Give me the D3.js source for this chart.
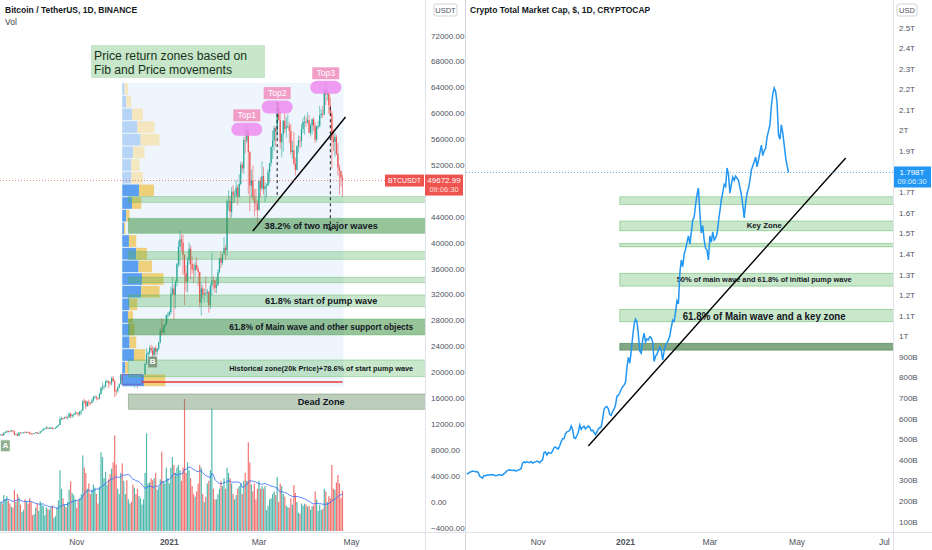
<!DOCTYPE html>
<html>
<head>
<meta charset="utf-8">
<script src="https://cdn.jsdelivr.net/npm/d3@7"></script>
<style>
  body { margin: 0; background: #fff; }
  text { font-family: "Liberation Sans", Arial, sans-serif; }
</style>
</head>
<body>
<svg id="chart" width="932" height="550"></svg>
<script>
// ---- data: BTCUSDT daily, 2020-09-12 .. 2021-04-25 ----
const startDate = new Date(Date.UTC(2020, 8, 12));
const btcFirstOpen = 10390;
const btcClose = [
  10440,10330,10680,10790,10950,10940,10930,11080,10920,10420,10530,10240,10740,10690,10730,10775,10710,10845,10780,
  10620,10570,10550,10670,10790,10600,10670,10920,11050,11300,11380,11540,11430,11430,11500,11320,11370,11510,11750,11910,12820,12980,12930,13120,13030,13070,13650,13270,13460,13560,13800,
  13760,13550,14030,14150,15590,15580,14830,15480,15330,15300,15700,16290,16320,16070,15960,16730,17660,17800,17820,18660,18700,18420,18370,19160,18720,17150,17140,17720,18180,19700,
  18770,19220,19420,18650,19150,19360,19170,18320,18550,18250,18040,18800,19170,19270,19430,21350,22800,23110,23820,23450,22710,23820,23240,23720,24660,26440,26250,27030,27370,28860,28920,
  29330,32180,33000,31990,33950,36770,39430,40580,40090,38150,35400,34050,37370,39140,36770,36000,35820,36630,36020,35540,30800,33010,32080,32260,32250,32510,30400,33400,34270,34260,33110,
  33520,35510,37660,36950,38290,39260,38870,46450,46510,44840,47970,47380,47400,48580,47180,49150,52120,51550,55890,55850,57410,54090,48890,49680,47070,46280,46100,45140,
  49590,48440,50350,48370,48760,48880,50970,52380,54880,55850,57770,57220,61190,59000,55600,56900,58910,57650,58030,58100,57350,54080,54340,52300,51300,55040,55860,55780,57630,58730,58740,
  58720,58990,57060,58200,59130,58060,56000,58090,58100,59770,59990,59860,63580,62960,63160,61330,60000,56150,55630,56430,53790,51700,51150,50110,49673
];
const btcHigh = [
  10480,10550,10800,10940,11100,11040,11040,11180,11080,10990,10580,10560,10780,10770,10790,10800,10950,10870,10850,
  10920,10670,10600,10690,10800,10800,10700,10960,11110,11490,11440,11720,11560,11550,11630,11540,11400,11530,11820,12030,13220,13190,13030,13170,13350,13240,13790,13860,13630,13680,14100,
  13900,13830,14070,14250,15770,15970,15760,15650,15840,15470,15940,16340,16480,16330,16140,16880,17860,18480,18140,18820,18970,18740,18760,19420,19480,18920,17460,17860,18350,19860,
  19890,19310,19560,19510,19180,19420,19390,19290,18640,18560,18290,18950,19410,19350,19570,21560,23800,23280,24170,24300,24100,23840,24150,23790,24790,26870,28420,27500,27410,28990,29300,
  29600,33300,34780,33600,34360,36940,40370,41950,41380,41350,38260,36630,37850,40100,39700,37950,36850,37300,37850,36410,35600,33830,33450,32940,34880,32920,32560,33780,38530,34930,34290,
  34720,35980,37660,38710,38310,40950,39700,46790,48200,47310,48680,48980,48150,49710,49000,50650,52620,52530,56370,57500,58350,57530,54180,51370,52040,48370,48390,46640,
  49790,50200,52640,51770,49450,49200,51450,52400,54900,57390,58150,58060,61790,61680,60600,56940,58980,60080,59470,59880,58630,58400,55830,57200,53230,55080,56640,56560,58400,59370,59800,
  59490,60200,59790,58490,59270,59480,58660,58150,58880,61220,60690,61200,63780,64850,63800,63520,62500,60410,57530,57080,56760,55500,52130,51170,50550
];
const btcLow = [
  10280,10200,10250,10630,10670,10750,10820,10890,10770,10290,10360,10140,10200,10540,10650,10630,10670,10640,10670,
  10440,10380,10500,10520,10600,10530,10570,10530,10830,11050,11270,11200,11260,11280,11270,11220,11300,11340,11410,11680,11890,12680,12720,12900,12890,12780,13060,12920,12990,13130,13420,
  13620,13200,13290,13530,14090,15180,14350,14700,14830,14980,15270,15430,15950,15700,15800,15870,16560,17210,17340,17750,18400,17600,18000,18020,18570,16190,16440,16870,17520,18180,
  18320,18330,18920,18570,18500,18860,18900,18200,17650,17910,17570,18020,18710,19000,19050,19280,21230,22350,22750,23060,22350,22350,22700,22700,23430,24500,25700,26100,25880,27320,27850,
  28620,28950,31960,28130,29900,33290,36300,36500,38720,35110,30420,32530,32380,36700,34410,35360,33850,34860,35800,33400,30070,28850,31390,30900,31910,30840,29240,29840,31920,32850,32300,
  32300,33420,35360,36160,36570,38220,37350,38050,45020,43730,43980,46130,46200,47060,45850,47010,48950,50900,50710,53860,55480,47620,44890,47000,46670,44110,45000,43000,
  45000,47050,48100,47500,46300,47070,48880,49270,51850,53000,54270,55000,56080,59000,54600,53270,54120,57020,56270,57820,55450,53650,53000,52000,50430,51250,53960,54690,54900,57000,56770,
  57940,58400,56960,56470,56780,57330,55470,55700,57660,57880,59260,59370,59790,61300,62020,60000,59580,51540,54220,53330,53600,50400,47500,48750,47140
];
// volume, thousands of BTC
const btcVolume = [
  55,52,68,60,66,58,52,46,44,78,55,70,64,50,36,40,60,56,52,
  62,55,30,32,44,52,38,56,50,48,30,45,42,40,46,48,25,28,44,58,115,80,62,50,45,55,78,94,72,68,60,
  44,58,62,70,143,120,110,80,90,70,78,88,82,70,52,84,149,140,100,112,88,98,108,118,130,181,126,80,70,110,
  128,95,70,96,60,52,55,88,82,70,80,66,62,50,60,110,185,90,92,100,96,100,110,78,84,98,150,95,90,120,100,
  90,120,140,125,110,120,125,115,95,120,250,110,130,115,100,85,70,65,75,90,125,120,70,55,65,90,95,115,232,80,60,
  60,70,80,95,85,100,80,120,110,100,90,70,60,68,80,85,90,70,95,110,95,168,130,88,75,90,60,80,
  95,80,85,80,85,40,48,60,62,70,75,68,102,55,90,85,70,65,48,45,44,62,50,87,72,55,35,33,52,48,52,
  50,46,48,40,47,48,75,60,38,50,40,42,80,75,55,66,62,125,80,78,92,106,90,62,76
];
// crypto total market cap, billions USD, same days
const totalCap = [
  333,336,342,344,348,346,344,345,340,322,318,313,326,325,327,329,327,331,330,
  328,325,326,329,331,326,328,335,340,348,352,354,351,350,352,348,349,352,355,360,386,392,388,392,390,388,394,386,390,392,396,
  393,388,396,402,437,440,425,438,435,434,446,461,465,458,455,470,490,505,505,528,538,540,545,566,548,508,505,520,536,571,
  550,560,566,552,560,566,560,543,546,536,524,538,552,558,562,600,648,658,660,650,622,618,638,648,668,712,715,728,745,757,765,
  780,850,900,872,930,1000,1060,1085,1073,1010,930,920,985,1018,975,990,985,1000,995,975,880,905,915,935,950,935,887,930,960,970,984,
  1005,1045,1081,1075,1120,1175,1160,1310,1373,1340,1400,1425,1460,1490,1450,1505,1567,1580,1640,1690,1722,1600,1504,1540,1470,1430,1420,1373,
  1490,1460,1510,1470,1480,1500,1560,1610,1664,1700,1740,1730,1820,1790,1698,1740,1776,1760,1780,1770,1760,1727,1690,1640,1577,1650,1698,1720,1760,1810,1830,
  1850,1873,1825,1860,1895,1931,1880,1905,1915,1970,2000,2030,2120,2180,2208,2190,2135,1980,1960,2030,1990,1930,1870,1830,1798
];

// volume profile (visible range), rows from low price to high price
const profileLow = 17830, profileHigh = 64787;
const profileUp   = [2170,300,1170,730,730,570,730,1900,1970,1630,1400,670,170,400,970,1670,900,900,1070,1830,1500,970,400,230];
const profileDown = [2130,270,1130,670,500,500,770,1830,2160,1340,1070,730,130,330,930,1500,1170,830,1160,1900,1730,1100,500,340];
const profileValueRows = 16;

// price zones on BTC chart
const btcZoneLow  = [46312, 41524, 37508, 33894, 30187, 25815, 19374, 14338];
const btcZoneHigh = [47178, 43841, 38682, 34728, 31994, 28287, 21953, 16702];
const btcZoneText = ["", "38.2% of two major waves", "", "", "61.8% start of pump wave",
  "61.8% of Main wave and other support objects", "Historical zone(20k Price)+78.6% of start pump wave", "Dead Zone"];
const btcZoneStart = new Date(Date.UTC(2020, 11, 5)), btcZoneEnd = new Date(Date.UTC(2021, 7, 16));

// zones on total market cap chart (billions)
const capZoneLow  = [1643, 1515, 1437, 1246, 1073, 935];
const capZoneHigh = [1680, 1562, 1454, 1308, 1133, 968];
const capZoneText = ["", "Key Zone", "", "50% of main wave and 61.8% of initial pump wave", "61.8% of Main wave and a key zone", ""];
const capZoneStart = new Date(Date.UTC(2020, 11, 28)), capZoneEnd = new Date(Date.UTC(2021, 6, 18));

const topNames = ["Top1", "Top2", "Top3"];
const topDates = [new Date(Date.UTC(2021, 1, 21)), new Date(Date.UTC(2021, 2, 13)), new Date(Date.UTC(2021, 3, 14))];

// tick labels (values hidden behind the axis boxes are left out)
const priceTicks = [72000,68000,64000,60000,56000,52000,44000,40000,36000,32000,28000,24000,20000,16000,12000,8000,4000,0,-4000];
const capTicks = [2500,2400,2300,2200,2100,2000,1900,1700,1600,1500,1400,1300,1200,1100,1000,900,800,700,600,500,400,300,200,100];
const leftTimeTicks = [["Nov", new Date(Date.UTC(2020,10,1))], ["2021", new Date(Date.UTC(2021,0,1))], ["Mar", new Date(Date.UTC(2021,2,1))], ["May", new Date(Date.UTC(2021,4,1))]];
const rightTimeTicks = leftTimeTicks.concat([["Jul", new Date(Date.UTC(2021,6,1))]]);

// ---- scales ----
const domainT = [startDate, new Date(Date.UTC(2021, 4, 1))];
const x = d3.scaleUtc().domain(domainT).range([0.75, 351.6]);
const y = d3.scaleLinear().domain([-4000, 72000]).range([528, 36]);
const yVol = d3.scaleLinear().domain([0, d3.max(btcVolume)]).range([531, 399]);
const x2 = d3.scaleUtc().domain(domainT).range([466.8, 797.1]);
const y2 = d3.scaleLinear().domain([100, 2500]).range([522, 28]);

const days = btcClose.map((_, i) => d3.utcDay.offset(startDate, i));
const candles = days.map((d, i) => ({
  date: d, o: i ? btcClose[i - 1] : btcFirstOpen, h: btcHigh[i], l: btcLow[i], c: btcClose[i], v: btcVolume[i]
}));
const UP = '#26a69a', DOWN = '#ef5350';

const svg = d3.select('#chart');
const defs = svg.append('defs');
defs.append('clipPath').attr('id', 'clipL').append('rect').attr('x', 0).attr('y', 0).attr('width', 425).attr('height', 532);
defs.append('clipPath').attr('id', 'clipR').append('rect').attr('x', 466).attr('y', 0).attr('width', 427).attr('height', 532);

// ================= LEFT PANE =================
const L = svg.append('g').attr('clip-path', 'url(#clipL)');

// volume profile background
const vpStart = new Date(Date.UTC(2020, 11, 1)), vpEnd = days[days.length - 1];
L.append('rect')
  .attr('x', x(vpStart)).attr('y', y(profileHigh))
  .attr('width', x(vpEnd) - x(vpStart) + 1).attr('height', y(profileLow) - y(profileHigh))
  .attr('fill', '#eef5fc');

// volume bars
L.append('g').selectAll('rect').data(candles).join('rect')
  .attr('x', d => x(d.date) - 0.6).attr('width', 1.2)
  .attr('y', d => yVol(d.v)).attr('height', d => yVol(0) - yVol(d.v))
  .attr('fill', d => d.c >= d.o ? UP : DOWN).attr('opacity', 0.8);

// volume SMA 20
const volMa = candles.map((d, i) => ({ date: d.date, v: d3.mean(btcVolume.slice(Math.max(0, i - 19), i + 1)) }));
L.append('path').datum(volMa)
  .attr('d', d3.line().x(d => x(d.date)).y(d => yVol(d.v)))
  .attr('fill', 'none').attr('stroke', '#2962ff').attr('stroke-width', 0.9).attr('opacity', 0.85);

// candles
const cg = L.append('g');
cg.selectAll('line').data(candles).join('line')
  .attr('x1', d => x(d.date)).attr('x2', d => x(d.date))
  .attr('y1', d => y(d.h)).attr('y2', d => y(d.l))
  .attr('stroke', d => d.c >= d.o ? UP : DOWN).attr('stroke-width', 0.6);
cg.selectAll('rect').data(candles).join('rect')
  .attr('x', d => x(d.date) - 0.6).attr('width', 1.2)
  .attr('y', d => y(Math.max(d.o, d.c)))
  .attr('height', d => Math.max(0.8, Math.abs(y(d.o) - y(d.c))))
  .attr('fill', d => d.c >= d.o ? UP : DOWN);

// volume profile rows
const rowStep = (profileHigh - profileLow) / profileUp.length;
const profW = d3.scaleLinear().domain([0, d3.max(profileUp.map((u, i) => u + profileDown[i]))]).range([0, 43]);
const pg = L.append('g');
profileUp.forEach((u, i) => {
  const lo = profileLow + i * rowStep, hi = lo + rowStep;
  const inVA = i < profileValueRows;
  const x0 = x(vpStart);
  const yt = y(hi) + 0.5, h = y(lo) - y(hi) - 1;
  pg.append('rect').attr('x', x0).attr('y', yt).attr('width', profW(u)).attr('height', h)
    .attr('fill', inVA ? '#5c9ff0' : '#b6d4f5');
  pg.append('rect').attr('x', x0 + profW(u)).attr('y', yt).attr('width', profW(profileDown[i])).attr('height', h)
    .attr('fill', inVA ? '#efd07a' : '#f4e7bf');
});

// small box round the December base
L.append('rect')
  .attr('x', x(vpStart)).attr('y', y(19700))
  .attr('width', x(new Date(Date.UTC(2020, 11, 14))) - x(vpStart)).attr('height', y(18200) - y(19700))
  .attr('fill', 'none').attr('stroke', '#7e57c2').attr('stroke-width', 1).attr('opacity', 0.8);

// red level line
L.append('line')
  .attr('x1', x(new Date(Date.UTC(2020, 11, 14)))).attr('x2', x(vpEnd))
  .attr('y1', y(18555)).attr('y2', y(18555))
  .attr('stroke', '#e53935').attr('stroke-width', 1.6);

// zones
const zg = L.append('g');
btcZoneLow.forEach((lo, i) => {
  const hi = btcZoneHigh[i];
  const dark = i === 1 || i === 5;
  const dead = i === 7;
  zg.append('rect')
    .attr('x', x(btcZoneStart)).attr('y', y(hi))
    .attr('width', x(btcZoneEnd) - x(btcZoneStart)).attr('height', y(lo) - y(hi))
    .attr('fill', dead ? 'rgba(95,135,95,0.42)' : dark ? 'rgba(56,142,60,0.52)' : 'rgba(76,175,80,0.3)')
    .attr('stroke', dead ? 'rgba(95,135,95,0.5)' : 'rgba(76,175,80,0.45)').attr('stroke-width', 0.8);
  if (btcZoneText[i]) {
    const small = i === 6;
    const t = zg.append('text')
      .attr('x', (x(btcZoneStart) + x(btcZoneEnd)) / 2).attr('y', (y(lo) + y(hi)) / 2)
      .attr('text-anchor', 'middle').attr('dominant-baseline', 'central')
      .attr('font-size', small ? 8 : 9.2).attr('font-weight', 'bold').attr('fill', '#131722')
      .text(btcZoneText[i]);
    if (i === 5 || i === 6) t.attr('textLength', 184).attr('lengthAdjust', 'spacingAndGlyphs');
  }
});

// dashed range lines from tops
const dashA = new Date(Date.UTC(2021, 2, 13)), dashB = new Date(Date.UTC(2021, 3, 17));
L.append('line').attr('x1', x(dashA)).attr('x2', x(dashA)).attr('y1', y(61790)).attr('y2', y(47300))
  .attr('stroke', '#131722').attr('stroke-width', 1).attr('stroke-dasharray', '3,3');
L.append('line').attr('x1', x(dashB)).attr('x2', x(dashB)).attr('y1', y(61000)).attr('y2', y(41900))
  .attr('stroke', '#131722').attr('stroke-width', 1).attr('stroke-dasharray', '3,3');
L.append('path')
  .attr('d', `M${x(dashB) - 3},${y(41900) - 3}L${x(dashB)},${y(41900)}L${x(dashB) + 3},${y(41900) - 3}`)
  .attr('fill', 'none').attr('stroke', '#131722').attr('stroke-width', 1);

// trend line
L.append('line')
  .attr('x1', x(new Date(Date.UTC(2021, 1, 25)))).attr('y1', y(41880))
  .attr('x2', x(new Date(Date.UTC(2021, 3, 27)))).attr('y2', y(59488))
  .attr('stroke', '#000').attr('stroke-width', 1.5);

// top labels
topNames.forEach((name, i) => {
  const idx = d3.bisectLeft(days, topDates[i]);
  const cx = x(topDates[i]), cy = y(btcHigh[idx]) + 5;
  L.append('rect').attr('x', cx - 15.5).attr('y', cy - 6.5).attr('width', 31).attr('height', 13).attr('rx', 6.5)
    .attr('fill', '#ec8cf0').attr('opacity', 0.85);
  L.append('rect').attr('x', cx - 13.5).attr('y', cy - 20).attr('width', 27).attr('height', 12)
    .attr('fill', '#f29cc8');
  L.append('text').attr('x', cx).attr('y', cy - 14).attr('text-anchor', 'middle').attr('dominant-baseline', 'central')
    .attr('font-size', 8.5).attr('fill', '#fff').text(name);
});

// A / B markers
[["A", new Date(Date.UTC(2020, 8, 15)), 8700, '#8fb08f'], ["B", new Date(Date.UTC(2020, 11, 21)), 21650, '#7f9c80']]
  .forEach(([t, d, p, col]) => {
    L.append('rect').attr('x', x(d) - 4.5).attr('y', y(p) - 5.5).attr('width', 9).attr('height', 11).attr('fill', col);
    L.append('text').attr('x', x(d)).attr('y', y(p)).attr('text-anchor', 'middle').attr('dominant-baseline', 'central')
      .attr('font-size', 8).attr('font-weight', 'bold').attr('fill', '#fff').text(t);
  });

// current price line
const lastPrice = btcClose[btcClose.length - 1];
L.append('line').attr('x1', 0).attr('x2', 425).attr('y1', y(lastPrice)).attr('y2', y(lastPrice))
  .attr('stroke', '#ef5350').attr('stroke-width', 1).attr('stroke-dasharray', '1,2').attr('opacity', 0.7);
L.append('rect').attr('x', 385).attr('y', y(lastPrice) - 6).attr('width', 39).attr('height', 12).attr('fill', '#ef5350');
L.append('text').attr('x', 404.5).attr('y', y(lastPrice)).attr('text-anchor', 'middle').attr('dominant-baseline', 'central')
  .attr('font-size', 7.5).attr('fill', '#fff').attr('textLength', 33).attr('lengthAdjust', 'spacingAndGlyphs').text('BTCUSDT');

// title box
svg.append('rect').attr('x', 91).attr('y', 45).attr('width', 174).attr('height', 33).attr('fill', '#c8e6c9');
svg.append('text').attr('x', 94).attr('y', 60).attr('font-size', 12.5).attr('fill', '#17321a')
  .attr('textLength', 153).attr('lengthAdjust', 'spacingAndGlyphs').text('Price return zones based on');
svg.append('text').attr('x', 94).attr('y', 74).attr('font-size', 12.5).attr('fill', '#17321a')
  .attr('textLength', 138).attr('lengthAdjust', 'spacingAndGlyphs').text('Fib and Price movements');

svg.append('text').attr('x', 5).attr('y', 13).attr('font-size', 8.5).attr('font-weight', 'bold').attr('fill', '#131722')
  .text('Bitcoin / TetherUS, 1D, BINANCE');
svg.append('text').attr('x', 5).attr('y', 25).attr('font-size', 8.5).attr('fill', '#363a45').text('Vol');

// ================= RIGHT PANE =================
const R = svg.append('g').attr('clip-path', 'url(#clipR)');

capZoneLow.forEach((lo, i) => {
  const hi = capZoneHigh[i];
  const dark = i === 5;
  R.append('rect')
    .attr('x', x2(capZoneStart)).attr('y', y2(hi))
    .attr('width', x2(capZoneEnd) - x2(capZoneStart)).attr('height', y2(lo) - y2(hi))
    .attr('fill', dark ? 'rgba(46,110,50,0.6)' : 'rgba(76,175,80,0.3)')
    .attr('stroke', dark ? 'rgba(46,110,50,0.6)' : 'rgba(76,175,80,0.55)').attr('stroke-width', 0.8);
  if (capZoneText[i]) {
    const fs = i === 4 ? 11 : 7.8;
    const t = R.append('text')
      .attr('x', (x2(capZoneStart) + x2(capZoneEnd)) / 2).attr('y', (y2(lo) + y2(hi)) / 2)
      .attr('text-anchor', 'middle').attr('dominant-baseline', 'central')
      .attr('font-size', fs).attr('font-weight', 'bold').attr('fill', '#131722').text(capZoneText[i]);
    if (i === 3) t.attr('textLength', 175).attr('lengthAdjust', 'spacingAndGlyphs');
    if (i === 4) t.attr('textLength', 163).attr('lengthAdjust', 'spacingAndGlyphs');
  }
});

R.append('path').datum(totalCap)
  .attr('d', d3.line().x((d, i) => x2(days[i])).y(d => y2(d)))
  .attr('fill', 'none').attr('stroke', '#2196f3').attr('stroke-width', 1.5);

R.append('line')
  .attr('x1', x2(new Date(Date.UTC(2020, 11, 6)))).attr('y1', y2(469))
  .attr('x2', x2(new Date(Date.UTC(2021, 5, 4)))).attr('y2', y2(1868))
  .attr('stroke', '#000').attr('stroke-width', 1.4);

const lastCap = totalCap[totalCap.length - 1];
R.append('line').attr('x1', 466).attr('x2', 893).attr('y1', y2(lastCap)).attr('y2', y2(lastCap))
  .attr('stroke', '#2196f3').attr('stroke-width', 1).attr('stroke-dasharray', '1,2').attr('opacity', 0.7);

svg.append('text').attr('x', 470).attr('y', 13).attr('font-size', 8.5).attr('font-weight', 'bold').attr('fill', '#131722')
  .text('Crypto Total Market Cap, $, 1D, CRYPTOCAP');

// ================= AXES / FRAME =================
const frame = svg.append('g').attr('stroke', '#e0e3eb').attr('stroke-width', 1);
frame.append('line').attr('x1', 425.5).attr('x2', 425.5).attr('y1', 0).attr('y2', 550);
frame.append('line').attr('x1', 465.5).attr('x2', 465.5).attr('y1', 0).attr('y2', 550).attr('stroke', '#d1d4dc');
frame.append('line').attr('x1', 893.5).attr('x2', 893.5).attr('y1', 0).attr('y2', 550);
frame.append('line').attr('x1', 0).attr('x2', 932).attr('y1', 532.5).attr('y2', 532.5);

const fmtPrice = d3.format('.2f');
svg.append('g').selectAll('text').data(priceTicks).join('text')
  .attr('x', 431).attr('y', d => y(d)).attr('dominant-baseline', 'central')
  .attr('font-size', 8).attr('fill', '#50535e').text(d => fmtPrice(d));

const fmtCap = v => v >= 1000 ? (+(v / 1000).toFixed(1)) + 'T' : v + 'B';
svg.append('g').selectAll('text').data(capTicks).join('text')
  .attr('x', 899).attr('y', d => y2(d)).attr('dominant-baseline', 'central')
  .attr('font-size', 8).attr('fill', '#50535e').text(d => fmtCap(d));

leftTimeTicks.forEach(([t, d]) => {
  svg.append('text').attr('x', x(d)).attr('y', 542).attr('text-anchor', 'middle').attr('dominant-baseline', 'central')
    .attr('font-size', 8.5).attr('font-weight', t === '2021' ? 'bold' : 'normal').attr('fill', '#50535e').text(t);
});
rightTimeTicks.forEach(([t, d]) => {
  svg.append('text').attr('x', x2(d)).attr('y', 542).attr('text-anchor', 'middle').attr('dominant-baseline', 'central')
    .attr('font-size', 8.5).attr('font-weight', t === '2021' ? 'bold' : 'normal').attr('fill', '#50535e').text(t);
});

// currency boxes
[[434, 'USDT', 23], [897, 'USD', 20]].forEach(([bx, t, w]) => {
  svg.append('rect').attr('x', bx).attr('y', 4).attr('width', w).attr('height', 12).attr('rx', 2)
    .attr('fill', '#fff').attr('stroke', '#c5c8d0').attr('stroke-width', 0.8);
  svg.append('text').attr('x', bx + w / 2).attr('y', 10.5).attr('text-anchor', 'middle').attr('dominant-baseline', 'central')
    .attr('font-size', 7.5).attr('fill', '#50535e').text(t);
});

// last value boxes on axes
svg.append('rect').attr('x', 425).attr('y', y(lastPrice) - 6).attr('width', 38).attr('height', 21).attr('fill', '#ef5350');
svg.append('text').attr('x', 444).attr('y', y(lastPrice)).attr('text-anchor', 'middle').attr('dominant-baseline', 'central')
  .attr('font-size', 8).attr('fill', '#fff').text(fmtPrice(lastPrice - 0.01));
svg.append('text').attr('x', 444).attr('y', y(lastPrice) + 9).attr('text-anchor', 'middle').attr('dominant-baseline', 'central')
  .attr('font-size', 7.5).attr('fill', '#fde0df').text('09:06:30');

svg.append('rect').attr('x', 894).attr('y', y2(lastCap) - 6).attr('width', 37).attr('height', 21).attr('fill', '#2196f3');
svg.append('text').attr('x', 912).attr('y', y2(lastCap)).attr('text-anchor', 'middle').attr('dominant-baseline', 'central')
  .attr('font-size', 8).attr('fill', '#fff').text('1.798T');
svg.append('text').attr('x', 912).attr('y', y2(lastCap) + 9).attr('text-anchor', 'middle').attr('dominant-baseline', 'central')
  .attr('font-size', 7.5).attr('fill', '#dcefff').text('09:06:30');
</script>
</body>
</html>
